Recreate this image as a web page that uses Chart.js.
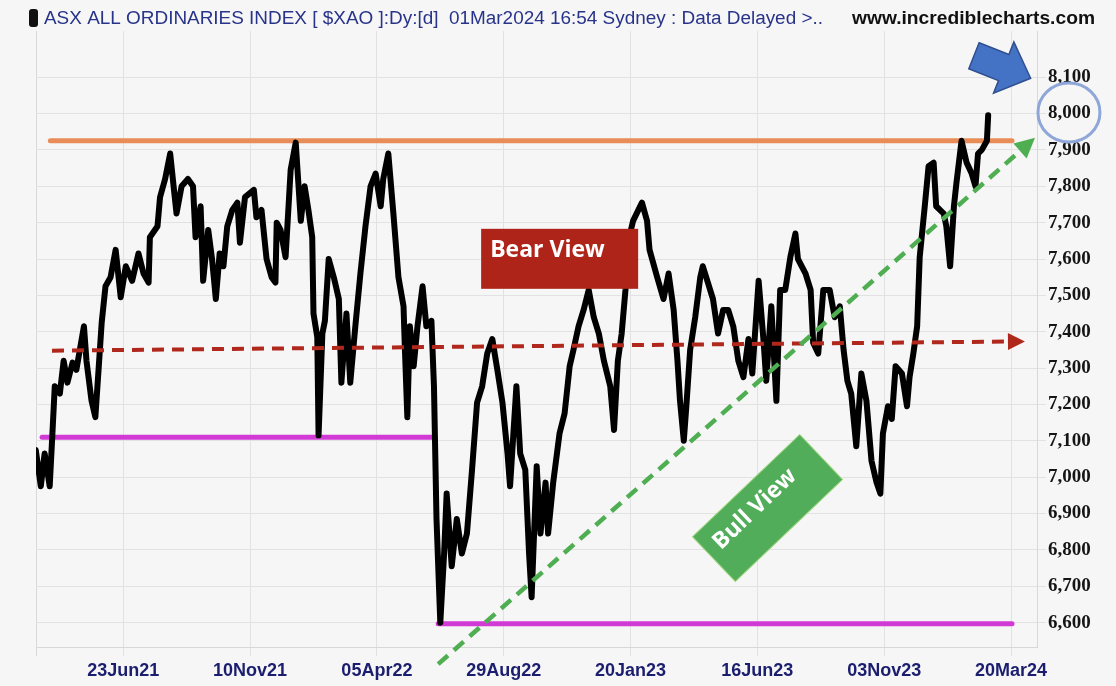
<!DOCTYPE html>
<html>
<head>
<meta charset="utf-8">
<script src="https://cdn.jsdelivr.net/npm/chart.js@4.4.1/dist/chart.umd.min.js"></script>
<style>
  html, body { margin: 0; padding: 0; background: #f6f6f6; }
  #wrap { position: relative; width: 1116px; height: 686px; }
</style>
</head>
<body>
<div id="wrap"><canvas id="chart" width="1116" height="686"></canvas></div>
<script>
// x axis is trading-day bar number, one tick every 100 bars
const xTickBars = [100, 200, 300, 400, 500, 600, 700, 800];
const xTickLabels = ['23Jun21', '10Nov21', '05Apr22', '29Aug22', '20Jan23', '16Jun23', '03Nov23', '20Mar24'];
const yTickValues = [6600, 6700, 6800, 6900, 7000, 7100, 7200, 7300, 7400, 7500, 7600, 7700, 7800, 7900, 8000, 8100];

// $XAO close (bar number / index level)
const priceBars = [31, 35, 38, 42, 44, 46, 50, 53, 56, 60, 63, 69, 71, 75, 78, 81, 83, 86, 90, 94,
  98, 102, 107, 112, 116, 120, 121, 127, 129, 133, 137, 140, 142, 146, 151, 155, 157, 161, 163, 167,
  170, 173, 176, 179, 182, 186, 190, 192, 196, 203, 205, 209, 213, 217, 220, 221, 224, 228, 232, 236,
  240, 243, 246, 249, 250, 253, 254, 257, 259, 262, 266, 270, 272, 276, 279, 283, 287, 291, 295, 299,
  303, 305, 309, 313, 317, 321, 322, 324, 326, 329, 332, 336, 339, 343, 345, 347, 350, 353, 355, 359,
  363, 367, 371, 375, 379, 383, 387, 391, 395, 399, 403, 405, 410, 413, 417, 420, 422, 426, 429, 433,
  435, 439, 444, 448, 452, 455, 459, 463, 467, 471, 475, 479, 484, 487, 490, 493, 496, 498, 502, 509,
  513, 515, 521, 526, 530, 534, 537, 539, 542, 544, 547, 551, 555, 557, 561, 565, 569, 573, 577, 581,
  585, 589, 593, 596, 601, 605, 607, 611, 615, 618, 622, 626, 630, 632, 638, 642, 644, 648, 652, 657,
  661, 665, 668, 671, 674, 678, 682, 686, 690, 694, 697, 699, 703, 706, 709, 714, 718, 720, 723, 726,
  728, 732, 735, 739, 741, 747, 749, 752, 755, 757, 761, 765, 769, 772, 774, 777, 781, 782];
const priceClose = [7075, 6975, 7065, 6975, 7110, 7250, 7230, 7320, 7260, 7315, 7295, 7415, 7320, 7210, 7165, 7320, 7425, 7525, 7550, 7625,
  7495, 7580, 7540, 7615, 7560, 7535, 7660, 7690, 7770, 7820, 7890, 7790, 7725, 7800, 7820, 7800, 7660, 7745, 7540, 7680,
  7600, 7490, 7615, 7580, 7690, 7735, 7755, 7645, 7770, 7790, 7715, 7735, 7600, 7550, 7535, 7700, 7680, 7605, 7845, 7920,
  7705, 7800, 7735, 7660, 7450, 7385, 7115, 7395, 7430, 7600, 7550, 7490, 7260, 7450, 7260, 7415, 7560, 7690, 7800, 7835,
  7745, 7820, 7890, 7725, 7550, 7470, 7360, 7165, 7415, 7305, 7415, 7525, 7415, 7430, 7250, 6885, 6600, 6790, 6955, 6755,
  6885, 6790, 6845, 7020, 7205, 7250, 7340, 7380, 7295, 7205, 7065, 6975, 7250, 7065, 7020, 6790, 6670, 7030, 6845, 6985,
  6845, 6985, 7120, 7175, 7305, 7350, 7415, 7460, 7515, 7440, 7395, 7320, 7250, 7130, 7320, 7395, 7515, 7645, 7705, 7755,
  7705, 7625, 7550, 7490, 7560, 7460, 7320, 7210, 7100, 7195, 7350, 7440, 7550, 7580, 7535, 7490, 7395, 7460, 7460, 7415,
  7320, 7275, 7380, 7285, 7540, 7370, 7265, 7470, 7210, 7515, 7515, 7605, 7670, 7600, 7560, 7515, 7370, 7340, 7515, 7515,
  7440, 7470, 7350, 7265, 7230, 7085, 7285, 7210, 7045, 6985, 6955, 7120, 7195, 7160, 7305, 7285, 7195, 7275, 7340, 7415,
  7605, 7745, 7855, 7865, 7745, 7725, 7690, 7580, 7745, 7810, 7925, 7865, 7835, 7800, 7890, 7900, 7925, 7995];

// drawn-in levels and trend lines: [startBar, endBar] and [startLevel, endLevel]
const resistanceBars = [42.5, 800.8];
const resistanceLevel = [7925, 7925];
const upperSupportBars = [36, 343.6];
const upperSupportLevel = [7110, 7110];
const lowerSupportBars = [348.3, 800.8];
const lowerSupportLevel = [6597, 6597];
const bearLineBars = [43.8, 797.6];
const bearLineLevel = [7348, 7373];
const bullLineBars = [348.3, 807.1];
const bullLineLevel = [6486, 7897];

// callout anchors in data space
const bearBoxBars = [382.2, 506];
const bearBoxLevels = [7683, 7518];
const bullBoxCentre = [608, 6915];
const blueArrowTail = [770.8, 8159];
const blueRingCentre = [845.7, 8003];

const titleText = 'ASX ALL ORDINARIES INDEX [ $XAO ]:Dy:[d]  01Mar2024 16:54 Sydney : Data Delayed >..';
const siteText = 'www.incrediblecharts.com';

function pairs(xs, ys) {
  return xs.map((x, i) => ({ x: x, y: ys[i] }));
}

function arrowHead(ctx, x0, y0, x1, y1, len, width, color) {
  const ang = Math.atan2(y1 - y0, x1 - x0);
  ctx.save();
  ctx.translate(x1, y1);
  ctx.rotate(ang);
  ctx.fillStyle = color;
  ctx.beginPath();
  ctx.moveTo(len, 0);
  ctx.lineTo(0, -width / 2);
  ctx.lineTo(0, width / 2);
  ctx.closePath();
  ctx.fill();
  ctx.restore();
}

const decor = {
  id: 'decor',
  beforeDraw(chart) {
    const ctx = chart.ctx, a = chart.chartArea;
    ctx.save();
    ctx.fillStyle = '#f6f6f6';
    ctx.fillRect(0, 0, chart.width, chart.height);
    ctx.strokeStyle = '#d8d8d8';
    ctx.lineWidth = 1;
    ctx.beginPath();
    ctx.moveTo(a.left + 0.5, a.top);
    ctx.lineTo(a.left + 0.5, a.bottom + 9);
    ctx.stroke();
    ctx.restore();
  },
  afterDatasetsDraw(chart) {
    const ctx = chart.ctx;
    const xs = chart.scales.x, ys = chart.scales.y;
    const px = v => xs.getPixelForValue(v), py = v => ys.getPixelForValue(v);

    // arrow heads on the two dashed lines
    arrowHead(ctx, px(bearLineBars[0]), py(bearLineLevel[0]), px(bearLineBars[1]), py(bearLineLevel[1]), 17, 17, '#b0271c');
    arrowHead(ctx, px(bullLineBars[0]), py(bullLineLevel[0]), px(bullLineBars[1]), py(bullLineLevel[1]), 20, 20, '#4fae52');

    // Bear View box
    const bx0 = px(bearBoxBars[0]), bx1 = px(bearBoxBars[1]);
    const by0 = py(bearBoxLevels[0]), by1 = py(bearBoxLevels[1]);
    ctx.save();
    ctx.fillStyle = '#ae2419';
    ctx.fillRect(bx0, by0, bx1 - bx0, by1 - by0);
    ctx.fillStyle = '#ffffff';
    ctx.font = 'bold 23px "Open Sans"';
    ctx.textBaseline = 'alphabetic';
    ctx.fillText('Bear View', bx0 + 9, by0 + 28);
    ctx.restore();

    // Bull View box, tilted along the trend
    ctx.save();
    ctx.translate(px(bullBoxCentre[0]), py(bullBoxCentre[1]));
    ctx.rotate(-43.6 * Math.PI / 180);
    ctx.fillStyle = '#52ad5a';
    ctx.fillRect(-74, -31, 148, 62);
    ctx.strokeStyle = '#9ad57a';
    ctx.lineWidth = 1;
    ctx.strokeRect(-74, -31, 148, 62);
    ctx.fillStyle = '#ffffff';
    ctx.font = 'bold 23px "Open Sans"';
    ctx.textAlign = 'center';
    ctx.textBaseline = 'middle';
    ctx.fillText('Bull View', -10, -8);
    ctx.restore();

    // blue block arrow pointing at the new high
    ctx.save();
    ctx.translate(px(blueArrowTail[0]), py(blueArrowTail[1]));
    ctx.rotate(21.7 * Math.PI / 180);
    ctx.beginPath();
    ctx.moveTo(0, -14);
    ctx.lineTo(32, -14);
    ctx.lineTo(32, -27.5);
    ctx.lineTo(61, 0);
    ctx.lineTo(32, 27.5);
    ctx.lineTo(32, 14);
    ctx.lineTo(0, 14);
    ctx.closePath();
    ctx.fillStyle = '#4472c4';
    ctx.fill();
    ctx.strokeStyle = '#2f4f8f';
    ctx.lineWidth = 1.5;
    ctx.stroke();
    ctx.restore();

    // ring round the 8,000 label
    ctx.save();
    ctx.strokeStyle = '#8ea6d8';
    ctx.lineWidth = 3;
    ctx.beginPath();
    ctx.ellipse(px(blueRingCentre[0]), py(blueRingCentre[1]), 31, 29.5, 0, 0, Math.PI * 2);
    ctx.stroke();
    ctx.restore();
  },
  afterDraw(chart) {
    const ctx = chart.ctx;
    ctx.save();
    // little black marker before the title
    ctx.fillStyle = '#111111';
    ctx.beginPath();
    ctx.roundRect(29, 9, 9, 18, 3);
    ctx.fill();

    ctx.textBaseline = 'alphabetic';
    ctx.fillStyle = '#28338a';
    ctx.font = '18px "Liberation Sans"';
    let w = ctx.measureText(titleText).width;
    ctx.save();
    ctx.translate(44, 24);
    ctx.scale(779 / w, 1);
    ctx.fillText(titleText, 0, 0);
    ctx.restore();

    ctx.fillStyle = '#111111';
    ctx.font = 'bold 18px "Liberation Sans"';
    w = ctx.measureText(siteText).width;
    ctx.translate(852, 24);
    ctx.scale(243 / w, 1);
    ctx.fillText(siteText, 0, 0);
    ctx.restore();
  }
};

new Chart(document.getElementById('chart'), {
  type: 'line',
  data: {
    datasets: [
      {
        data: pairs(bullLineBars, bullLineLevel),
        borderColor: '#4fae52', borderWidth: 4.5, borderDash: [13, 8],
        pointRadius: 0, clip: false, order: 0
      },
      {
        data: pairs(bearLineBars, bearLineLevel),
        borderColor: '#b0271c', borderWidth: 4, borderDash: [12, 8],
        pointRadius: 0, order: 0
      },
      {
        data: pairs(priceBars, priceClose),
        borderColor: '#000000', borderWidth: 6, pointRadius: 0,
        borderJoinStyle: 'round', borderCapStyle: 'round', tension: 0, order: 1
      },
      {
        data: pairs(resistanceBars, resistanceLevel),
        borderColor: '#e88d57', borderWidth: 5, pointRadius: 0, borderCapStyle: 'round', order: 2
      },
      {
        data: pairs(upperSupportBars, upperSupportLevel),
        borderColor: '#d23ad6', borderWidth: 5, pointRadius: 0, borderCapStyle: 'round', order: 2
      },
      {
        data: pairs(lowerSupportBars, lowerSupportLevel),
        borderColor: '#d23ad6', borderWidth: 5, pointRadius: 0, borderCapStyle: 'round', order: 2
      }
    ]
  },
  options: {
    responsive: false,
    animation: false,
    events: [],
    layout: { padding: { top: 31, left: 36, right: 0, bottom: 0 } },
    plugins: {
      legend: { display: false },
      tooltip: { enabled: false },
      title: { display: false }
    },
    scales: {
      x: {
        type: 'linear',
        min: 31.2,
        max: 820.5,
        afterBuildTicks: s => { s.ticks = xTickBars.map(v => ({ value: v })); },
        afterFit: s => { s.height = 39; },
        grid: { color: '#e2e2e2', lineWidth: 1, tickLength: 9 },
        border: { color: '#d8d8d8' },
        ticks: {
          callback: (v, i) => xTickLabels[i],
          font: { family: 'Liberation Sans', size: 18, weight: 'bold' },
          color: '#1b1e6e',
          padding: 4,
          maxRotation: 0,
          autoSkip: false
        }
      },
      y: {
        position: 'right',
        min: 6533,
        max: 8227,
        afterBuildTicks: s => { s.ticks = yTickValues.map(v => ({ value: v })); },
        afterFit: s => { s.width = 79; },
        grid: { color: '#e2e2e2', lineWidth: 1, tickLength: 9 },
        border: { color: '#d8d8d8' },
        ticks: {
          callback: v => v.toLocaleString('en-US'),
          font: { family: 'Liberation Serif', size: 19, weight: 'bold' },
          color: '#151515',
          padding: 2
        }
      }
    }
  },
  plugins: [decor]
});
</script>
</body>
</html>
